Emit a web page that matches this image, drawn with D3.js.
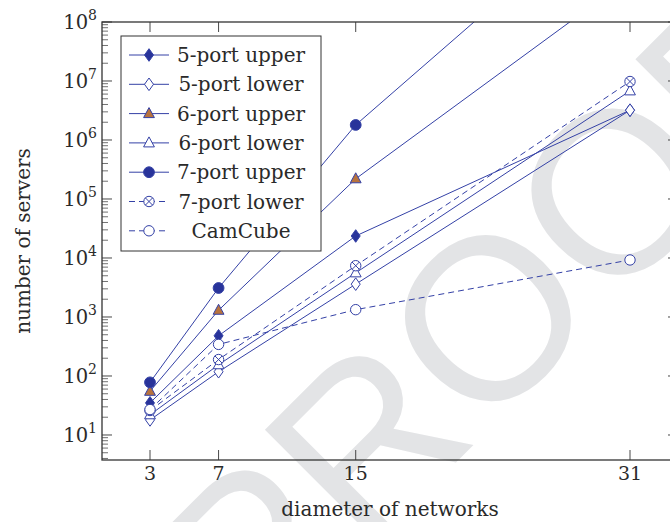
<!DOCTYPE html>
<html>
<head>
<meta charset="utf-8">
<script src="https://cdn.jsdelivr.net/npm/d3@7"></script>
<style>
  html, body { margin: 0; padding: 0; background: #fff; }
  svg { display: block; }
  text { font-family: "DejaVu Serif", "Liberation Serif", serif; fill: #2a2a2a; }
</style>
</head>
<body>
<svg id="chart" width="670" height="522"></svg>
<script>
// Network diameter on the x axis
const diameters = [3, 7, 15, 31];
const xTicks = [3, 7, 15, 31];
const yTickExponents = [1, 2, 3, 4, 5, 6, 7, 8];

// Number of servers per topology
const port5Upper = [35, 480, 23600, 3.2e6];
const port5Lower = [18, 118, 3600, 3.2e6];
const port6Upper = [55, 1300, 2.2e5, 5.6e8];
const port6Lower = [22, 155, 5600, 6.8e6];
const port7Upper = [78, 3100, 1.8e6, 2.0e10];
const port7Lower = [26, 190, 7400, 9.8e6];
const camCube = [27, 343, 1331, 9261];

const seriesNames = ["5-port upper", "5-port lower", "6-port upper", "6-port lower",
                     "7-port upper", "7-port lower", "CamCube"];
const seriesValues = [port5Upper, port5Lower, port6Upper, port6Lower,
                      port7Upper, port7Lower, camCube];
const seriesMarks = ["diamondFilled", "diamondOpen", "triangleFilled", "triangleOpen",
                     "circleFilled", "circleCross", "circleOpen"];
const seriesDashed = [false, false, false, false, false, true, true];

const lineColor = "#3441a6";
const fillColor = "#28339a";
const brownFill = "#b8733e";

const svg = d3.select("#chart");
const plotLeft = 102, plotRight = 678, plotTop = 22, plotBottom = 460;

// Watermark across the page
svg.append("text")
  .attr("transform", "translate(488,318) rotate(-45)")
  .attr("text-anchor", "middle")
  .attr("dominant-baseline", "central")
  .style("font-family", "'Liberation Sans', 'DejaVu Sans', sans-serif")
  .style("font-size", "230px")
  .style("fill", "#e3e4e6")
  .text("PROOF");

const x = d3.scaleLinear().domain([0.2, 33.8]).range([plotLeft, plotRight]);
const y = d3.scaleLog().domain([Math.pow(10, 0.576), 1e8]).range([plotBottom, plotTop]);

svg.append("defs").append("clipPath").attr("id", "plotClip")
  .append("rect").attr("x", plotLeft).attr("y", plotTop)
  .attr("width", plotRight - plotLeft).attr("height", plotBottom - plotTop);

// Ticks (inside, on all four sides)
const tickG = svg.append("g").attr("stroke", "#333").attr("stroke-width", 0.9);
const [y0, y1] = y.domain();
const minorVals = [];
for (let e = 0; e <= 8; e++) {
  for (let m = 2; m <= 9; m++) {
    const v = m * Math.pow(10, e);
    if (v >= y0 && v <= y1) minorVals.push(v);
  }
}
minorVals.forEach(v => {
  tickG.append("line").attr("x1", plotLeft).attr("x2", plotLeft + 6)
    .attr("y1", y(v)).attr("y2", y(v)).attr("stroke-width", 0.7);
  tickG.append("line").attr("x1", plotRight).attr("x2", plotRight - 6)
    .attr("y1", y(v)).attr("y2", y(v)).attr("stroke-width", 0.7);
});
yTickExponents.forEach(e => {
  const v = Math.pow(10, e);
  tickG.append("line").attr("x1", plotLeft).attr("x2", plotLeft + 10)
    .attr("y1", y(v)).attr("y2", y(v));
  tickG.append("line").attr("x1", plotRight).attr("x2", plotRight - 10)
    .attr("y1", y(v)).attr("y2", y(v));
});
xTicks.forEach(t => {
  tickG.append("line").attr("x1", x(t)).attr("x2", x(t))
    .attr("y1", plotBottom).attr("y2", plotBottom - 10);
  tickG.append("line").attr("x1", x(t)).attr("x2", x(t))
    .attr("y1", plotTop).attr("y2", plotTop + 10);
});

// Series
const plot = svg.append("g").attr("clip-path", "url(#plotClip)");
const line = d3.line().x((d, i) => x(diameters[i])).y(d => y(d));

function drawMarker(g, kind, cx, cy) {
  const s = g.append("g").attr("transform", `translate(${cx},${cy})`);
  if (kind === "diamondFilled" || kind === "diamondOpen") {
    s.append("path").attr("d", "M0,-6.3 L4.5,0 L0,6.3 L-4.5,0 Z")
      .attr("fill", kind === "diamondFilled" ? fillColor : "#fff")
      .attr("stroke", lineColor).attr("stroke-width", 1);
  } else if (kind === "triangleFilled" || kind === "triangleOpen") {
    s.append("path").attr("d", "M0,-6 L5.4,4 L-5.4,4 Z")
      .attr("fill", kind === "triangleFilled" ? brownFill : "#fff")
      .attr("stroke", lineColor).attr("stroke-width", 1);
  } else if (kind === "circleFilled") {
    s.append("circle").attr("r", 5.4).attr("fill", fillColor)
      .attr("stroke", lineColor).attr("stroke-width", 1);
  } else if (kind === "circleOpen") {
    s.append("circle").attr("r", 5.2).attr("fill", "#fff")
      .attr("stroke", lineColor).attr("stroke-width", 1);
  } else if (kind === "circleCross") {
    s.append("circle").attr("r", 5.2).attr("fill", "#fff")
      .attr("stroke", lineColor).attr("stroke-width", 1);
    const k = 5.2 * Math.SQRT1_2;
    s.append("path").attr("d", `M${-k},${-k} L${k},${k} M${-k},${k} L${k},${-k}`)
      .attr("stroke", lineColor).attr("stroke-width", 1);
  }
}

seriesValues.forEach((vals, si) => {
  plot.append("path").datum(vals)
    .attr("d", line)
    .attr("fill", "none")
    .attr("stroke", lineColor)
    .attr("stroke-width", 1)
    .attr("stroke-dasharray", seriesDashed[si] ? "6,4" : null);
});
seriesValues.forEach((vals, si) => {
  vals.forEach((v, i) => drawMarker(plot, seriesMarks[si], x(diameters[i]), y(v)));
});

// Axis frame
svg.append("rect").attr("x", plotLeft).attr("y", plotTop)
  .attr("width", plotRight - plotLeft).attr("height", plotBottom - plotTop)
  .attr("fill", "none").attr("stroke", "#333").attr("stroke-width", 1.3);

// Tick labels
xTicks.forEach(t => {
  svg.append("text").attr("x", x(t)).attr("y", 480)
    .attr("text-anchor", "middle").style("font-size", "19px").text(t);
});
yTickExponents.forEach(e => {
  const t = svg.append("text").attr("x", 97).attr("y", y(Math.pow(10, e)) + 7)
    .attr("text-anchor", "end").style("font-size", "19.5px");
  t.append("tspan").text("10");
  t.append("tspan").attr("dy", -9).style("font-size", "14px").text(e);
});

// Axis titles
svg.append("text").attr("x", 390).attr("y", 516).attr("text-anchor", "middle")
  .style("font-size", "20px").text("diameter of networks");
svg.append("text").attr("transform", "translate(30,241) rotate(-90)")
  .attr("text-anchor", "middle").style("font-size", "20px").text("number of servers");

// Legend
const lg = svg.append("g");
lg.append("rect").attr("x", 121).attr("y", 36).attr("width", 200).attr("height", 215)
  .attr("fill", "#fff").attr("stroke", "#333").attr("stroke-width", 1);
seriesNames.forEach((name, i) => {
  const ly = 55 + i * 29.3;
  lg.append("line").attr("x1", 129).attr("x2", 169).attr("y1", ly).attr("y2", ly)
    .attr("stroke", lineColor).attr("stroke-width", 1)
    .attr("stroke-dasharray", seriesDashed[i] ? "6,4" : null);
  drawMarker(lg, seriesMarks[i], 149, ly);
  lg.append("text").attr("x", 241).attr("y", ly + 7).attr("text-anchor", "middle")
    .style("font-size", "20px").text(name);
});
</script>
</body>
</html>
